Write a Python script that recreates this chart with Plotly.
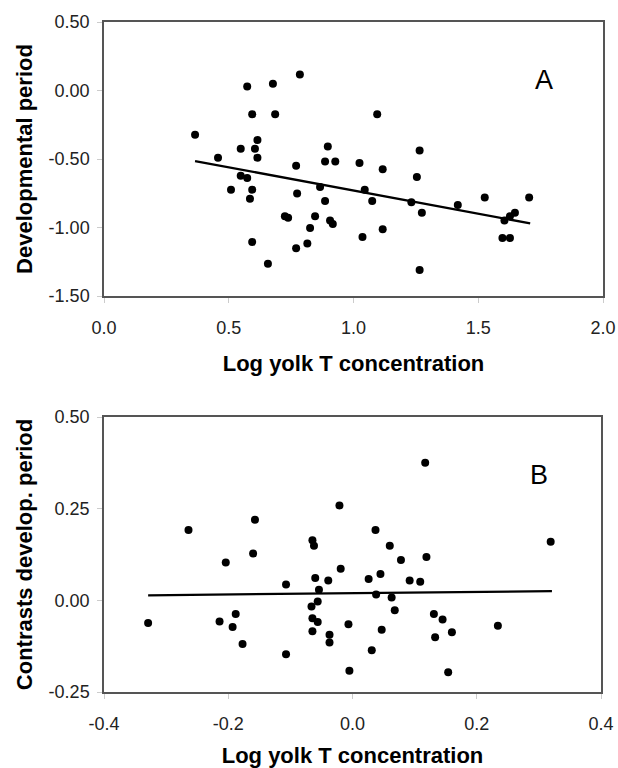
import plotly.graph_objects as go

# Panel A: developmental period vs log yolk T concentration
a_x = [0.365, 0.457, 0.548, 0.574, 0.594, 0.615, 0.605, 0.615, 0.548, 0.574,
       0.509, 0.594, 0.585, 0.594, 0.677, 0.686, 0.785, 0.657, 0.770, 0.774,
       0.725, 0.738, 0.770, 0.815, 0.826, 0.846, 0.866, 0.886, 0.897, 0.927,
       0.886, 0.906, 0.917, 1.024, 1.045, 1.075, 1.095, 1.117, 1.117, 1.036,
       1.232, 1.254, 1.265, 1.274, 1.265, 1.418, 1.526, 1.597, 1.627, 1.605,
       1.627, 1.647, 1.704]
a_y = [-0.322, -0.490, -0.425, 0.030, -0.174, -0.361, -0.425, -0.490, -0.622, -0.639,
       -0.724, -0.724, -0.790, -1.106, 0.050, -0.174, 0.116, -1.264, -0.549, -0.751,
       -0.918, -0.928, -1.152, -1.116, -1.004, -0.918, -0.704, -0.519, -0.408, -0.519,
       -0.807, -0.948, -0.974, -0.529, -0.724, -0.807, -0.174, -0.575, -1.013, -1.069,
       -0.816, -0.631, -0.437, -0.892, -1.310, -0.836, -0.780, -1.077, -1.077, -0.948,
       -0.918, -0.892, -0.780]
a_fit_x = [0.365, 1.708]
a_fit_y = [-0.515, -0.970]

# Panel B: contrasts
b_x = [-0.329, -0.264, -0.204, -0.214, -0.193, -0.188, -0.177, -0.157, -0.160, -0.107,
       -0.107, -0.0645, -0.062, -0.060, -0.039, -0.054, -0.056, -0.066, -0.0645, -0.056,
       -0.0645, -0.037, -0.037, -0.021, -0.019, -0.0065, -0.005, 0.026, 0.037, 0.038,
       0.045, 0.047, 0.031, 0.060, 0.063, 0.068, 0.078, 0.092, 0.109, 0.117,
       0.119, 0.131, 0.145, 0.133, 0.160, 0.154, 0.234, 0.319]
b_y = [-0.062, 0.192, 0.103, -0.058, -0.073, -0.037, -0.119, 0.220, 0.128, 0.043,
       -0.147, 0.164, 0.149, 0.061, 0.054, 0.029, -0.003, -0.017, -0.049, -0.059,
       -0.084, -0.094, -0.115, 0.259, 0.086, -0.065, -0.192, 0.058, 0.192, 0.016,
       0.072, -0.080, -0.136, 0.149, 0.008, -0.027, 0.110, 0.054, 0.051, 0.375,
       0.118, -0.037, -0.052, -0.101, -0.087, -0.196, -0.069, 0.160]
b_fit_x = [-0.329, 0.321]
b_fit_y = [0.0138, 0.0249]

a_xticks = [0.0, 0.5, 1.0, 1.5, 2.0]
a_xticktext = ["0.0", "0.5", "1.0", "1.5", "2.0"]
a_yticks = [0.5, 0.0, -0.5, -1.0, -1.5]
a_yticktext = ["0.50", "0.00", "-0.50", "-1.00", "-1.50"]
b_xticks = [-0.4, -0.2, 0.0, 0.2, 0.4]
b_xticktext = ["-0.4", "-0.2", "0.0", "0.2", "0.4"]
b_yticks = [0.5, 0.25, 0.0, -0.25]
b_yticktext = ["0.50", "0.25", "0.00", "-0.25"]

FONT = "Liberation Sans, Arial, sans-serif"

fig = go.Figure()
marker = dict(color="black", size=8)
fig.add_trace(go.Scatter(x=a_x, y=a_y, mode="markers", marker=marker, xaxis="x", yaxis="y"))
fig.add_trace(go.Scatter(x=a_fit_x, y=a_fit_y, mode="lines", line=dict(color="black", width=2.3),
                         xaxis="x", yaxis="y"))
fig.add_trace(go.Scatter(x=b_x, y=b_y, mode="markers", marker=marker, xaxis="x2", yaxis="y2"))
fig.add_trace(go.Scatter(x=b_fit_x, y=b_fit_y, mode="lines", line=dict(color="black", width=2.3),
                         xaxis="x2", yaxis="y2"))

common = dict(showline=True, linecolor="#555555", linewidth=1.5, mirror=True, showgrid=False,
              zeroline=False, ticks="outside", ticklen=5, tickcolor="#cccccc", tickwidth=1,
              automargin=False,
              tickfont=dict(family=FONT, size=18, color="#222222"))
title_font = dict(family=FONT, size=22, color="black", weight="bold")

fig.update_layout(
    width=618, height=768,
    margin=dict(l=104, r=15, t=22, b=76),
    paper_bgcolor="white", plot_bgcolor="white",
    showlegend=False,
    xaxis=dict(domain=[0, 1], anchor="y", range=[0, 2], tickvals=a_xticks, ticktext=a_xticktext,
               ticklabelstandoff=10,
               title=dict(text="Log yolk T concentration", font=title_font, standoff=18), **common),
    yaxis=dict(domain=[0.591, 1], anchor="x", range=[-1.5, 0.5], tickvals=a_yticks, ticktext=a_yticktext,
               ticklabelstandoff=4,
               title=dict(text="Developmental period", font=title_font, standoff=10), **common),
    xaxis2=dict(domain=[0, 0.996], anchor="y2", range=[-0.4, 0.4], tickvals=b_xticks, ticktext=b_xticktext,
                ticklabelstandoff=10,
                title=dict(text="Log yolk T concentration", font=title_font, standoff=18), **common),
    yaxis2=dict(domain=[0, 0.4104], anchor="x2", range=[-0.25, 0.5], tickvals=b_yticks, ticktext=b_yticktext,
                ticklabelstandoff=4,
                title=dict(text="Contrasts develop. period", font=title_font, standoff=10), **common),
    annotations=[
        dict(text="A", xref="x domain", yref="y domain", x=0.904, y=0.85, showarrow=False,
             font=dict(family=FONT, size=27, color="black")),
        dict(text="B", xref="x2 domain", yref="y2 domain", x=0.898, y=0.851, showarrow=False,
             font=dict(family=FONT, size=27, color="black")),
    ],
)

fig.write_html("out.html")
